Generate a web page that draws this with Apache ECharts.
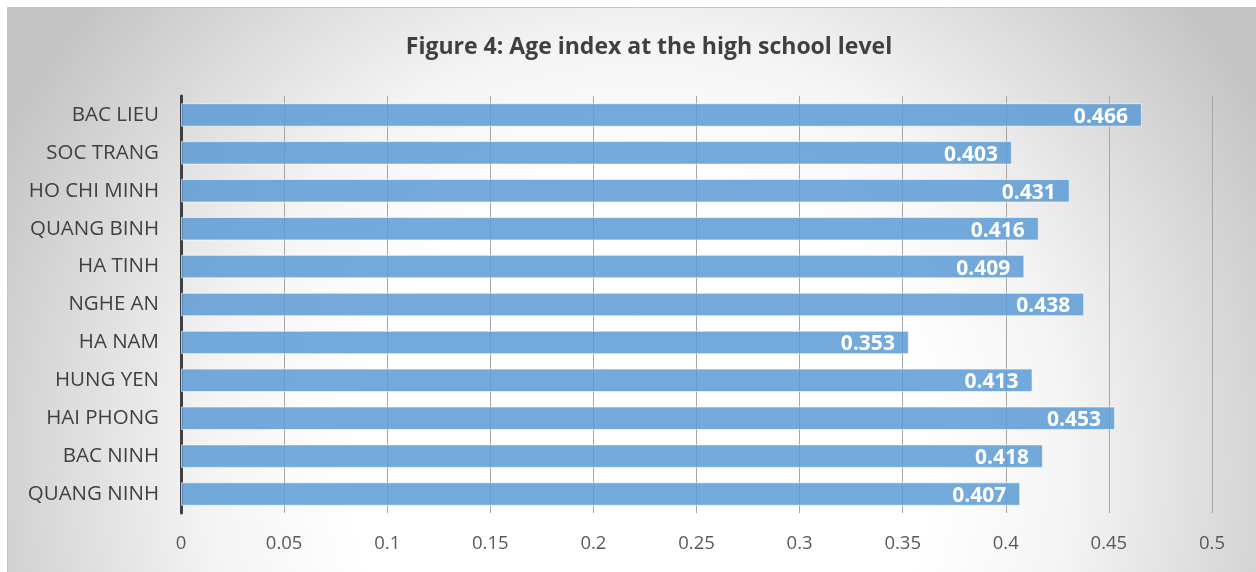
<!DOCTYPE html>
<html>
<head>
<meta charset="utf-8">
<script src="https://cdn.jsdelivr.net/npm/echarts@6/dist/echarts.min.js"></script>
<style>
  html, body { margin: 0; padding: 0; background: #fff; }
  #main { width: 1256px; height: 572px; }
</style>
</head>
<body>
<div id="main"></div>
<script>
// data, top to bottom as shown
var provinces = ['BAC LIEU', 'SOC TRANG', 'HO CHI MINH', 'QUANG BINH', 'HA TINH', 'NGHE AN',
                 'HA NAM', 'HUNG YEN', 'HAI PHONG', 'BAC NINH', 'QUANG NINH'];
var ageIndex = [0.466, 0.403, 0.431, 0.416, 0.409, 0.438, 0.353, 0.413, 0.453, 0.418, 0.407];
var xTicks = [0, 0.05, 0.1, 0.15, 0.2, 0.25, 0.3, 0.35, 0.4, 0.45, 0.5];

var chart = echarts.init(document.getElementById('main'));

var option = {
    backgroundColor: '#ffffff',
    animation: false,
    textStyle: { fontFamily: '"Open Sans", "Noto Sans", sans-serif' },
    graphic: [{
        // chart area background, radial from lower centre
        type: 'rect',
        z: -10,
        silent: true,
        shape: { x: 7.5, y: 7.5, width: 1260, height: 580 },
        style: {
            fill: {
                type: 'radial', x: 640, y: 470, r: 720, global: true,
                colorStops: [
                    { offset: 0, color: '#ffffff' },
                    { offset: 0.4, color: '#ffffff' },
                    { offset: 0.6, color: '#f4f4f4' },
                    { offset: 1, color: '#c4c4c4' }
                ]
            },
            stroke: '#c4c4c4',
            lineWidth: 1
        }
    }],
    title: {
        text: 'Figure 4: Age index at the high school level',
        left: 644,
        top: 31,
        textAlign: 'center',
        textStyle: { fontSize: 23, fontWeight: 'bold', color: '#404040' }
    },
    grid: { left: 181, right: 44, top: 96, bottom: 59 },
    xAxis: {
        type: 'value',
        min: 0,
        max: 0.5,
        interval: 0.05,
        axisLine: { show: false },
        axisTick: { show: false },
        axisLabel: {
            margin: 21,
            fontSize: 18.5,
            color: '#595959',
            formatter: function (v) {
                var i = Math.round(v / 0.05);
                return xTicks[i] !== undefined ? String(xTicks[i]) : '';
            }
        },
        splitLine: { show: true, lineStyle: { color: '#a6a6a6', width: 1 } }
    },
    yAxis: {
        type: 'category',
        inverse: true,
        data: provinces,
        axisLine: { show: true, lineStyle: { color: '#404040', width: 3 } },
        axisTick: { show: false },
        axisLabel: { margin: 22, fontSize: 20.5, color: '#404040' }
    },
    series: [{
        type: 'bar',
        data: ageIndex,
        barWidth: '62%',
        itemStyle: {
            color: 'rgba(91,155,213,0.85)',
            borderColor: 'rgba(255,255,255,0.6)',
            borderWidth: 1
        },
        label: {
            show: true,
            position: 'insideRight',
            distance: 14,
            offset: [0, 2],
            color: '#ffffff',
            fontSize: 21,
            fontWeight: 'bold',
            formatter: function (p) { return p.value.toFixed(3); }
        }
    }]
};

chart.setOption(option);
</script>
</body>
</html>
